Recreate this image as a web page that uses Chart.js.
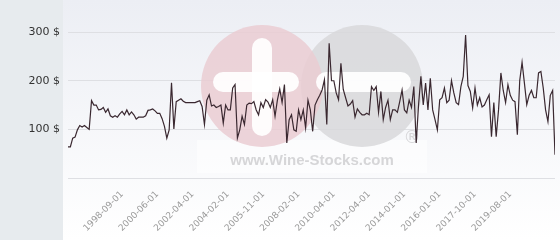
<!DOCTYPE html>
<html lang="en">
<head>
<meta charset="UTF-8" />
<title>Wine price history</title>
<script src="https://cdn.jsdelivr.net/npm/chart.js"></script>
<style>
  html, body { margin: 0; padding: 0; background: #fff; }
  canvas { display: block; }
</style>
</head>
<body>
<canvas id="priceChart" width="560" height="240"></canvas>
<script>
const prices = [
  64, 64, 82, 84, 99, 108, 105, 108, 104, 100,
  159, 150, 150, 140, 141, 145, 135, 142, 128, 125,
  128, 125, 132, 137, 130, 140, 130, 136, 130, 121,
  125, 125, 125, 128, 139, 140, 142, 138, 133, 133,
  122, 106, 82, 99, 196, 101, 157, 160, 163, 158,
  155, 155, 155, 155, 155, 157, 159, 147, 110, 160,
  171, 148, 150, 145, 147, 150, 113, 150, 140, 140,
  185, 192, 82, 99, 127, 110, 150, 154, 153, 157,
  140, 130, 155, 145, 161, 156, 145, 161, 127, 160,
  183, 155, 192, 72, 120, 130, 99, 96, 140, 120,
  140, 103, 160, 140, 96, 150, 161, 170, 181, 202,
  110, 277, 200, 200, 175, 161, 236, 182, 165, 148,
  152, 159, 125, 142, 135, 130, 130, 133, 130, 188,
  180, 188, 135, 178, 120, 145, 160, 120, 140, 140,
  135, 157, 181, 140, 134, 160, 145, 188, 72, 150,
  209, 150, 195, 140, 205, 140, 120, 99, 161, 165,
  185, 155, 160, 200, 175, 155, 151, 188, 209, 294,
  190, 178, 144, 185, 150, 165, 146, 150, 161, 171,
  85, 155, 85, 140, 216, 180, 155, 192, 170, 160,
  157, 89, 200, 238, 195, 151, 170, 180, 165, 165,
  216, 219, 185, 140, 116, 170, 180, 48
];

// date labels shown under the axis, every 15th observation starting at 23
const tickLabels = [
  '1998-09-01', '2000-06-01', '2002-04-01', '2004-02-01', '2005-11-01', '2008-02-01',
  '2010-04-01', '2012-04-01', '2014-01-01', '2016-01-01', '2017-10-01', '2019-08-01'
];
const firstTick = 23;
const tickStep = 15;

const yTicks = [0, 100, 200, 300];

// background: grey strip on the left, soft gradient behind the plot
const backdrop = {
  id: 'backdrop',
  beforeDraw(chart) {
    const { ctx, width, height } = chart;
    ctx.save();
    const g = ctx.createLinearGradient(0, 0, 0, height);
    g.addColorStop(0, '#eceef4');
    g.addColorStop(1, '#ffffff');
    ctx.fillStyle = g;
    ctx.fillRect(63, 0, width - 63, height);
    ctx.fillStyle = '#e7ebee';
    ctx.fillRect(0, 0, 63, height);
    ctx.restore();
  }
};

// faint site logo behind the line
const watermark = {
  id: 'watermark',
  beforeDatasetsDraw(chart) {
    const ctx = chart.ctx;
    ctx.save();
    ctx.fillStyle = 'rgba(255,255,255,0.55)';
    ctx.fillRect(197, 140, 230, 33);

    ctx.fillStyle = 'rgba(216,216,218,0.85)';
    ctx.beginPath(); ctx.arc(362, 86, 61, 0, Math.PI * 2); ctx.fill();
    ctx.fillStyle = 'rgba(234,204,210,0.85)';
    ctx.beginPath(); ctx.arc(262, 86, 61, 0, Math.PI * 2); ctx.fill();

    ctx.fillStyle = 'rgba(255,255,255,0.92)';
    const bar = (x, y, w, h) => {
      ctx.beginPath();
      ctx.roundRect(x, y, w, h, Math.min(w, h) / 2);
      ctx.fill();
    };
    bar(252, 38, 20, 98);
    bar(213, 72, 86, 20);
    bar(316, 72, 95, 20);

    ctx.fillStyle = '#d6d6d8';
    ctx.font = 'bold 15px "Liberation Sans", Arial, sans-serif';
    ctx.textAlign = 'center';
    ctx.textBaseline = 'middle';
    ctx.fillText('www.Wine-Stocks.com', 312, 161);
    ctx.font = '17px "DejaVu Sans", sans-serif';
    ctx.fillText('®', 412, 139);
    ctx.restore();
  }
};

new Chart(document.getElementById('priceChart'), {
  type: 'line',
  data: {
    datasets: [{
      data: prices.map((p, i) => ({ x: i, y: p })),
      borderColor: '#3a2830',
      borderWidth: 1.2,
      pointRadius: 0,
      tension: 0,
      fill: false
    }]
  },
  options: {
    responsive: false,
    animation: false,
    layout: { padding: { left: 0, right: 5, top: 0, bottom: 0 } },
    plugins: {
      legend: { display: false },
      tooltip: { enabled: false }
    },
    scales: {
      x: {
        type: 'linear',
        min: 0,
        max: prices.length - 1,
        grid: { display: false },
        border: { display: false },
        afterBuildTicks: (scale) => {
          scale.ticks = tickLabels.map((_, j) => ({ value: firstTick + j * tickStep }));
        },
        afterFit: (scale) => {
          scale.height = 62;
          scale.paddingLeft = 0;
          scale.paddingRight = 0;
        },
        ticks: {
          autoSkip: false,
          minRotation: 45,
          maxRotation: 45,
          padding: 3,
          color: '#9a9a9a',
          font: { family: '"DejaVu Sans", sans-serif', size: 9 },
          callback: (v) => tickLabels[Math.round((v - firstTick) / tickStep)]
        }
      },
      y: {
        min: 0,
        max: 366,
        grid: { color: '#dedfe3', drawTicks: false },
        border: { display: false },
        afterBuildTicks: (scale) => {
          scale.ticks = yTicks.map(v => ({ value: v }));
        },
        afterFit: (scale) => {
          scale.width = 68;
          scale.paddingTop = 0;
          scale.paddingBottom = 0;
        },
        ticks: {
          padding: 8,
          color: '#333',
          font: { family: '"DejaVu Sans", sans-serif', size: 11 },
          callback: (v) => v === 0 ? '' : v + ' $'
        }
      }
    }
  },
  plugins: [backdrop, watermark]
});
</script>
</body>
</html>
